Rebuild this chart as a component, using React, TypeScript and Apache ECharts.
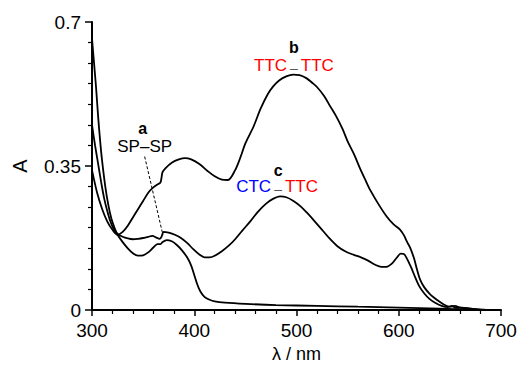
import React, { useEffect, useRef } from "react";
import * as echarts from "echarts";

// Curve a: SP–SP
const aWl = [300, 302, 304, 306, 308, 310, 313, 316, 319, 322, 325, 330, 335, 340, 345, 350, 355, 360, 364, 367, 369, 373, 378, 383, 388, 393, 397, 400, 403, 406, 410, 415, 420, 430, 450, 480, 520, 560, 600, 640, 670, 700];
const aAbs = [0.66, 0.6, 0.54, 0.47, 0.41, 0.36, 0.3, 0.255, 0.222, 0.2, 0.183, 0.165, 0.15, 0.138, 0.132, 0.133, 0.14, 0.152, 0.16, 0.16, 0.165, 0.17, 0.167, 0.158, 0.145, 0.128, 0.108, 0.085, 0.062, 0.045, 0.032, 0.025, 0.021, 0.018, 0.015, 0.012, 0.01, 0.008, 0.006, 0.003, 0.001, 0];

// Curve b: TTC–TTC
const bWl = [300, 305, 310, 315, 320, 325, 330, 335, 340, 345, 350, 355, 360, 364, 367, 369, 372, 378, 385, 391, 397, 405, 413, 420, 427, 433, 440, 445, 450, 458, 465, 472, 477, 483, 490, 497, 503, 510, 515, 520, 527, 533, 539, 545, 550, 556, 562, 567, 572, 580, 588, 595, 601, 605, 608, 611, 615, 618, 621, 625, 630, 634, 640, 645, 650, 655, 660, 670, 680, 690, 700];
const bAbs = [0.34, 0.285, 0.245, 0.215, 0.195, 0.183, 0.19, 0.205, 0.225, 0.245, 0.265, 0.285, 0.298, 0.305, 0.31, 0.335, 0.345, 0.358, 0.366, 0.369, 0.366, 0.355, 0.338, 0.325, 0.317, 0.316, 0.34, 0.37, 0.405, 0.446, 0.49, 0.525, 0.543, 0.558, 0.568, 0.572, 0.571, 0.563, 0.553, 0.542, 0.52, 0.495, 0.47, 0.44, 0.41, 0.38, 0.345, 0.318, 0.292, 0.258, 0.228, 0.208, 0.196, 0.182, 0.166, 0.152, 0.125, 0.097, 0.073, 0.055, 0.04, 0.031, 0.02, 0.012, 0.008, 0.01, 0.006, 0.003, 0.001, 0, 0];

// Curve c: CTC–TTC
const cWl = [300, 303, 306, 309, 312, 315, 318, 321, 325, 330, 335, 340, 345, 350, 355, 359, 363, 366, 368, 370, 375, 381, 387, 393, 399, 405, 410, 415, 420, 427, 434, 440, 447, 455, 462, 470, 477, 484, 490, 497, 504, 510, 518, 526, 533, 540, 548, 556, 563, 570, 577, 583, 588, 593, 598, 602, 605, 608, 612, 616, 620, 625, 630, 636, 642, 648, 652, 656, 662, 670, 680, 690, 700];
const cAbs = [0.45, 0.4, 0.355, 0.31, 0.27, 0.24, 0.215, 0.198, 0.185, 0.178, 0.174, 0.172, 0.173, 0.175, 0.178, 0.18, 0.176, 0.173, 0.178, 0.19, 0.188, 0.183, 0.175, 0.163, 0.148, 0.135, 0.128, 0.128, 0.132, 0.143, 0.157, 0.172, 0.193, 0.216, 0.238, 0.258, 0.27, 0.276, 0.274, 0.265, 0.252, 0.237, 0.215, 0.192, 0.172, 0.155, 0.142, 0.134, 0.128, 0.12, 0.11, 0.105, 0.105, 0.112, 0.127, 0.137, 0.136, 0.125, 0.104, 0.08, 0.058, 0.04, 0.027, 0.017, 0.01, 0.007, 0.01, 0.005, 0.006, 0.003, 0.001, 0, 0];

// Dashed leader from the "SP–SP" label to the curves
const leaderWl = [351.5, 369.4];
const leaderAbs = [0.373, 0.182];

// Axis ranges / ticks
const xMin = 300, xMax = 700, xStep = 100;
const yMin = 0, yMax = 0.7, yStep = 0.35;

// Annotation anchors (data coordinates)
const labelA = { letter: "a", text: "SP–SP", x: 351.5, yLetter: 0.44, yText: 0.397 };
const labelB = { letter: "b", left: "TTC", right: "TTC", x: 497.5, yLetter: 0.638, yText: 0.594 };
const labelC = { letter: "c", left: "CTC", right: "TTC", x: 481, yLetter: 0.338, yText: 0.3 };

const zip = (xs: number[], ys: number[]) => xs.map((x, i) => [x, ys[i]]);

export default function App() {
  const ref = useRef<HTMLDivElement>(null);
  useEffect(() => {
    document.body.style.margin = "0";
    const chart = echarts.init(ref.current!, null, { renderer: "svg" });
    const font = "'Liberation Sans', Arial, Helvetica, sans-serif";
    const curve = (name: string, data: number[][]) => ({
      name,
      type: "line",
      data,
      showSymbol: false,
      smooth: 0.3,
      silent: true,
      lineStyle: { color: "#000", width: 1.8 },
    });
    chart.setOption({
      animation: false,
      backgroundColor: "#fff",
      grid: { left: 92, right: 19, top: 22, bottom: 55, outerBoundsMode: "none", containLabel: false },
      xAxis: {
        type: "value",
        min: xMin,
        max: xMax,
        interval: xStep,
        name: "λ / nm",
        nameLocation: "middle",
        nameGap: 34,
        nameTextStyle: { color: "#000", fontSize: 18, fontFamily: font },
        axisLine: { lineStyle: { color: "#000", width: 2 } },
        axisTick: { length: 6, lineStyle: { color: "#000", width: 1.5 } },
        minorTick: { show: true, splitNumber: 5, length: 4, lineStyle: { color: "#000", width: 1.2 } },
        splitLine: { show: false },
        minorSplitLine: { show: false },
        axisLabel: { color: "#000", fontSize: 19, fontFamily: font, margin: 11 },
      },
      yAxis: {
        type: "value",
        min: yMin,
        max: yMax,
        interval: yStep,
        name: "A",
        nameLocation: "middle",
        nameGap: 62,
        nameRotate: 90,
        nameTextStyle: { color: "#000", fontSize: 20, fontFamily: font },
        axisLine: { show: true, lineStyle: { color: "#000", width: 2 } },
        axisTick: { show: true, length: 7, lineStyle: { color: "#000", width: 1.5 } },
        minorTick: { show: true, splitNumber: 7, length: 4, lineStyle: { color: "#000", width: 1.2 } },
        splitLine: { show: false },
        minorSplitLine: { show: false },
        axisLabel: {
          color: "#000",
          fontSize: 19,
          fontFamily: font,
          margin: 11,
          formatter: (v: number) => (v === 0 ? "0" : String(+v.toFixed(2))),
        },
      },
      series: [
        curve("SP–SP", zip(aWl, aAbs)),
        curve("TTC–TTC", zip(bWl, bAbs)),
        curve("CTC–TTC", zip(cWl, cAbs)),
        {
          name: "leader",
          type: "line",
          data: zip(leaderWl, leaderAbs),
          showSymbol: false,
          silent: true,
          lineStyle: { color: "#000", width: 1, type: [3, 2] },
        },
      ],
    });

    const px = (x: number, y: number) => chart.convertToPixel({ gridIndex: 0 }, [x, y]) as number[];
    const letter = (s: string, x: number, y: number) => {
      const p = px(x, y);
      return {
        type: "text",
        x: p[0],
        y: p[1],
        silent: true,
        style: { text: s, fill: "#000", font: `bold 16px ${font}`, align: "center", verticalAlign: "middle" },
      };
    };
    const formula = (l: string, lColor: string, r: string, rColor: string, x: number, y: number) => {
      const p = px(x, y);
      return {
        type: "text",
        x: p[0],
        y: p[1],
        silent: true,
        style: {
          text: `{l|${l}}{d|–}{r|${r}}`,
          align: "center",
          verticalAlign: "middle",
          font: `17px ${font}`,
          rich: {
            l: { fill: lColor, font: `17px ${font}` },
            d: { fill: "#555", font: `14px ${font}`, padding: [4, 3, 0, 3] },
            r: { fill: rColor, font: `17px ${font}` },
          },
        },
      };
    };
    const pa = px(labelA.x, labelA.yText);
    chart.setOption({
      graphic: [
        letter(labelA.letter, labelA.x - 2, labelA.yLetter),
        {
          type: "text",
          x: pa[0],
          y: pa[1],
          silent: true,
          style: { text: labelA.text, fill: "#000", font: `17px ${font}`, align: "center", verticalAlign: "middle" },
        },
        letter(labelB.letter, labelB.x, labelB.yLetter),
        formula(labelB.left, "#ff0000", labelB.right, "#ff0000", labelB.x, labelB.yText),
        letter(labelC.letter, labelC.x + 1, labelC.yLetter),
        formula(labelC.left, "#0000ff", labelC.right, "#ff0000", labelC.x, labelC.yText),
      ],
    });
    return () => chart.dispose();
  }, []);
  return <div ref={ref} style={{ width: 520, height: 365 }} />;
}
